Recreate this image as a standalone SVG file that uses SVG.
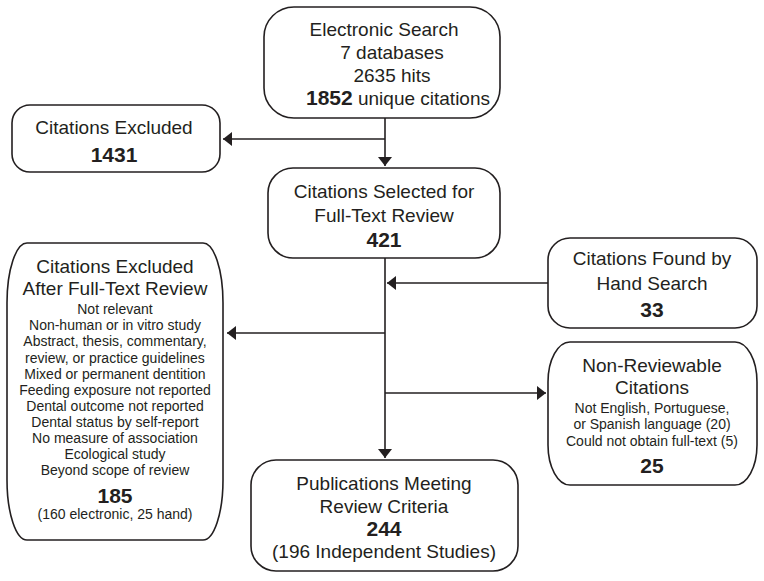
<svg xmlns="http://www.w3.org/2000/svg" width="764" height="581" viewBox="0 0 764 581">
<style>
.box{fill:#fff;stroke:#231f20;stroke-width:1.6}
.ln{fill:none;stroke:#231f20;stroke-width:1.6}
text{font-family:"Liberation Sans",Arial,sans-serif;fill:#231f20;text-anchor:middle}
.t{font-size:19px}
.s{font-size:14px}
.b{font-size:21px;font-weight:bold}
</style>
<defs>
<marker id="ah" viewBox="0 0 9 14" refX="9" refY="7" markerWidth="9" markerHeight="14" markerUnits="userSpaceOnUse" orient="auto">
<path d="M0,0 L9,7 L0,14 z" fill="#231f20"/>
</marker>
</defs>
<rect width="764" height="581" fill="#fff"/>
<g id="connectors">
<line class="ln" x1="385" y1="118" x2="385" y2="166" marker-end="url(#ah)"/>
<line class="ln" x1="385" y1="139" x2="223" y2="139" marker-end="url(#ah)"/>
<line class="ln" x1="385" y1="258" x2="385" y2="458" marker-end="url(#ah)"/>
<line class="ln" x1="548" y1="283" x2="387" y2="283" marker-end="url(#ah)"/>
<line class="ln" x1="385" y1="333" x2="227" y2="333" marker-end="url(#ah)"/>
<line class="ln" x1="385" y1="393" x2="546" y2="393" marker-end="url(#ah)"/>
</g>
<g id="electronic-search">
<rect class="box" x="264" y="7" width="236" height="111" rx="30" ry="30"/>
<text class="t" x="384" y="36">Electronic Search</text>
<text class="t" x="392" y="59">7 databases</text>
<text class="t" x="392" y="82">2635 hits</text>
<text class="t" x="398" y="105"><tspan style="font-weight:bold;font-size:21px">1852</tspan> unique citations</text>
</g>
<g id="citations-excluded">
<rect class="box" x="12" y="105" width="208" height="67" rx="18" ry="18"/>
<text class="t" x="114" y="134">Citations Excluded</text>
<text class="b" x="114" y="162">1431</text>
</g>
<g id="citations-selected">
<rect class="box" x="268" y="168" width="232" height="90" rx="25" ry="25"/>
<text class="t" x="384" y="198">Citations Selected for</text>
<text class="t" x="384" y="222">Full-Text Review</text>
<text class="b" x="384" y="247">421</text>
</g>
<g id="excluded-full-text">
<rect class="box" x="7" y="243" width="216" height="297" rx="20" ry="60"/>
<text class="t" x="115" y="273">Citations Excluded</text>
<text class="t" x="115" y="295">After Full-Text Review</text>
<text class="s" x="115" y="314">Not relevant</text>
<text class="s" x="115" y="330">Non-human or in vitro study</text>
<text class="s" x="115" y="346">Abstract, thesis, commentary,</text>
<text class="s" x="115" y="363">review, or practice guidelines</text>
<text class="s" x="115" y="379">Mixed or permanent dentition</text>
<text class="s" x="115" y="395">Feeding exposure not reported</text>
<text class="s" x="115" y="411">Dental outcome not reported</text>
<text class="s" x="115" y="427">Dental status by self-report</text>
<text class="s" x="115" y="443">No measure of association</text>
<text class="s" x="115" y="459">Ecological study</text>
<text class="s" x="115" y="475">Beyond scope of review</text>
<text class="b" x="115" y="503">185</text>
<text class="s" x="115" y="519">(160 electronic, 25 hand)</text>
</g>
<g id="hand-search">
<rect class="box" x="548" y="238" width="209" height="90" rx="22" ry="22"/>
<text class="t" x="652" y="265">Citations Found by</text>
<text class="t" x="652" y="290">Hand Search</text>
<text class="b" x="652" y="317">33</text>
</g>
<g id="non-reviewable">
<rect class="box" x="548" y="342" width="209" height="143" rx="22" ry="40"/>
<text class="t" x="652" y="372">Non-Reviewable</text>
<text class="t" x="652" y="394">Citations</text>
<text class="s" x="652" y="413">Not English, Portuguese,</text>
<text class="s" x="652" y="429">or Spanish language (20)</text>
<text class="s" x="652" y="446">Could not obtain full-text (5)</text>
<text class="b" x="652" y="473">25</text>
</g>
<g id="publications">
<rect class="box" x="251" y="460" width="267" height="111" rx="25" ry="25"/>
<text class="t" x="384" y="490">Publications Meeting</text>
<text class="t" x="384" y="513">Review Criteria</text>
<text class="b" x="384" y="536">244</text>
<text class="t" x="384" y="558">(196 Independent Studies)</text>
</g>
</svg>
